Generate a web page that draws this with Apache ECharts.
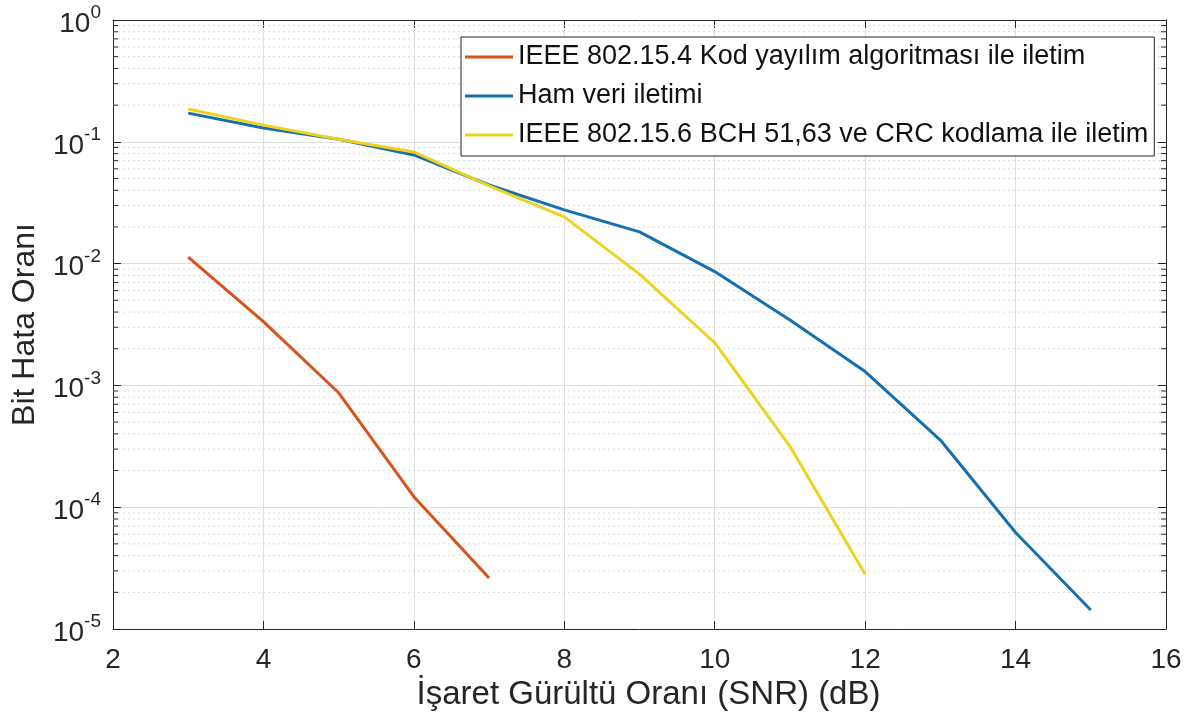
<!DOCTYPE html>
<html>
<head>
<meta charset="utf-8">
<script src="https://cdn.jsdelivr.net/npm/echarts@6/dist/echarts.min.js"></script>
<style>html,body{margin:0;padding:0;background:#fff;}#c{width:1197px;height:727px;}</style>
</head>
<body>
<div id="c"></div>
<script>
const snrOrange = [3, 4, 5, 6, 7];
const berOrange = [0.0113, 0.00334, 0.00087, 0.000122, 0.0000262];
const snrBlue = [3, 4, 5, 6, 7, 8, 9, 10, 11, 12, 13, 14, 15];
const berBlue = [0.172, 0.130, 0.105, 0.078, 0.0442, 0.0276, 0.0182, 0.0086, 0.00344, 0.0013, 0.000356, 0.000062, 0.0000143];
const snrYellow = [3, 4, 5, 6, 7, 8, 9, 10, 11, 12];
const berYellow = [0.186, 0.137, 0.105, 0.0825, 0.0434, 0.0242, 0.0082, 0.00224, 0.000316, 0.0000281];
const seriesNames = ['IEEE 802.15.4 Kod yayılım algoritması ile iletim', 'Ham veri iletimi', 'IEEE 802.15.6 BCH 51,63 ve CRC kodlama ile iletim'];
const seriesColors = ['#D95319', '#1670B0', '#EDD31E'];
const xTicks = [2, 4, 6, 8, 10, 12, 14, 16];
const yDecades = [-5, -4, -3, -2, -1, 0];
const minorMultipliers = [2, 3, 4, 5, 6, 7, 8, 9];

const minorGrid = [];
for (let i = 0; i < yDecades.length - 1; i++) {
  for (const m of minorMultipliers) minorGrid.push([2, m * Math.pow(10, yDecades[i])]);
}
const pair = (xs, ys) => xs.map((x, i) => [x, ys[i]]);
const FONT = 'Liberation Sans, Arial, sans-serif';
const TXT = '#262626';

const chart = echarts.init(document.getElementById('c'));
const commonX = {
  type: 'value', min: xTicks[0], max: xTicks[xTicks.length - 1], interval: 2,
  axisLine: { show: true, lineStyle: { color: TXT, width: 1 } },
  axisTick: { show: true, inside: true, length: 8, lineStyle: { color: TXT } }
};
const commonY = {
  type: 'log', logBase: 10, min: 1e-5, max: 1,
  axisLine: { show: true, lineStyle: { color: TXT, width: 1 } },
  axisTick: { show: true, inside: true, length: 8, lineStyle: { color: TXT } }
};
chart.setOption({
  animation: false,
  backgroundColor: '#ffffff',
  grid: { left: 113, right: 31, top: 20, bottom: 98, containLabel: false },
  legend: {
    data: seriesNames.map(n => ({ name: n, icon: 'rect' })),
    orient: 'vertical',
    left: 461, top: 37,
    backgroundColor: '#ffffff',
    borderColor: TXT, borderWidth: 1,
    padding: [5, 6, 6, 4],
    itemWidth: 48, itemHeight: 3, itemGap: 9,
    textStyle: { fontFamily: FONT, fontSize: 27, color: '#111', lineHeight: 30 }
  },
  xAxis: [
    Object.assign({}, commonX, {
      position: 'bottom',
      name: 'İşaret Gürültü Oranı (SNR) (dB)', nameLocation: 'middle', nameGap: 42,
      nameTextStyle: { fontFamily: FONT, fontSize: 33, color: TXT, padding: [0, 0, 0, 18] },
      axisLabel: { fontFamily: FONT, fontSize: 28, color: TXT, margin: 17 },
      splitLine: { show: true, lineStyle: { color: '#dfdfdf', width: 1 } }
    }),
    Object.assign({}, commonX, {
      position: 'top', axisLabel: { show: false }, splitLine: { show: false }
    })
  ],
  yAxis: [
    Object.assign({}, commonY, {
      position: 'left',
      name: 'Bit Hata Oranı', nameLocation: 'middle', nameGap: 72,
      nameTextStyle: { fontFamily: FONT, fontSize: 32, color: TXT },
      axisLabel: {
        margin: 12,
        formatter: function (v) {
          const e = Math.round(Math.log10(v));
          return '{b|10}{s|' + e + '}';
        },
        rich: {
          b: { fontFamily: FONT, fontSize: 28, color: TXT, padding: [8, 0, 0, 0] },
          s: { fontFamily: FONT, fontSize: 19, color: TXT, padding: [0, 0, 14, 0] }
        }
      },
      splitLine: { show: true, lineStyle: { color: '#dfdfdf', width: 1 } }
    }),
    Object.assign({}, commonY, {
      position: 'right', axisLabel: { show: false }, splitLine: { show: false }
    })
  ],
  series: [
    {
      type: 'custom', name: 'minorGrid', silent: true, z: 1,
      data: minorGrid,
      renderItem: function (params, api) {
        const v = api.value(1);
        const a = api.coord([xTicks[0], v]);
        const b = api.coord([xTicks[xTicks.length - 1], v]);
        return {
          type: 'group',
          children: [
            { type: 'line', shape: { x1: a[0], y1: a[1], x2: b[0], y2: b[1] },
              style: { stroke: '#d9d9d9', lineWidth: 1, lineDash: [2, 3] } },
            { type: 'line', shape: { x1: a[0], y1: a[1], x2: a[0] + 5, y2: a[1] },
              style: { stroke: TXT, lineWidth: 1 } },
            { type: 'line', shape: { x1: b[0] - 5, y1: b[1], x2: b[0], y2: b[1] },
              style: { stroke: TXT, lineWidth: 1 } }
          ]
        };
      }
    },
    {
      type: 'line', name: seriesNames[0], data: pair(snrOrange, berOrange),
      symbol: 'none', z: 3,
      lineStyle: { color: seriesColors[0], width: 3 }, itemStyle: { color: seriesColors[0] }
    },
    {
      type: 'line', name: seriesNames[1], data: pair(snrBlue, berBlue),
      symbol: 'none', z: 3,
      lineStyle: { color: seriesColors[1], width: 3 }, itemStyle: { color: seriesColors[1] }
    },
    {
      type: 'line', name: seriesNames[2], data: pair(snrYellow, berYellow),
      symbol: 'none', z: 4,
      lineStyle: { color: seriesColors[2], width: 3 }, itemStyle: { color: seriesColors[2] }
    }
  ]
});
</script>
</body>
</html>
